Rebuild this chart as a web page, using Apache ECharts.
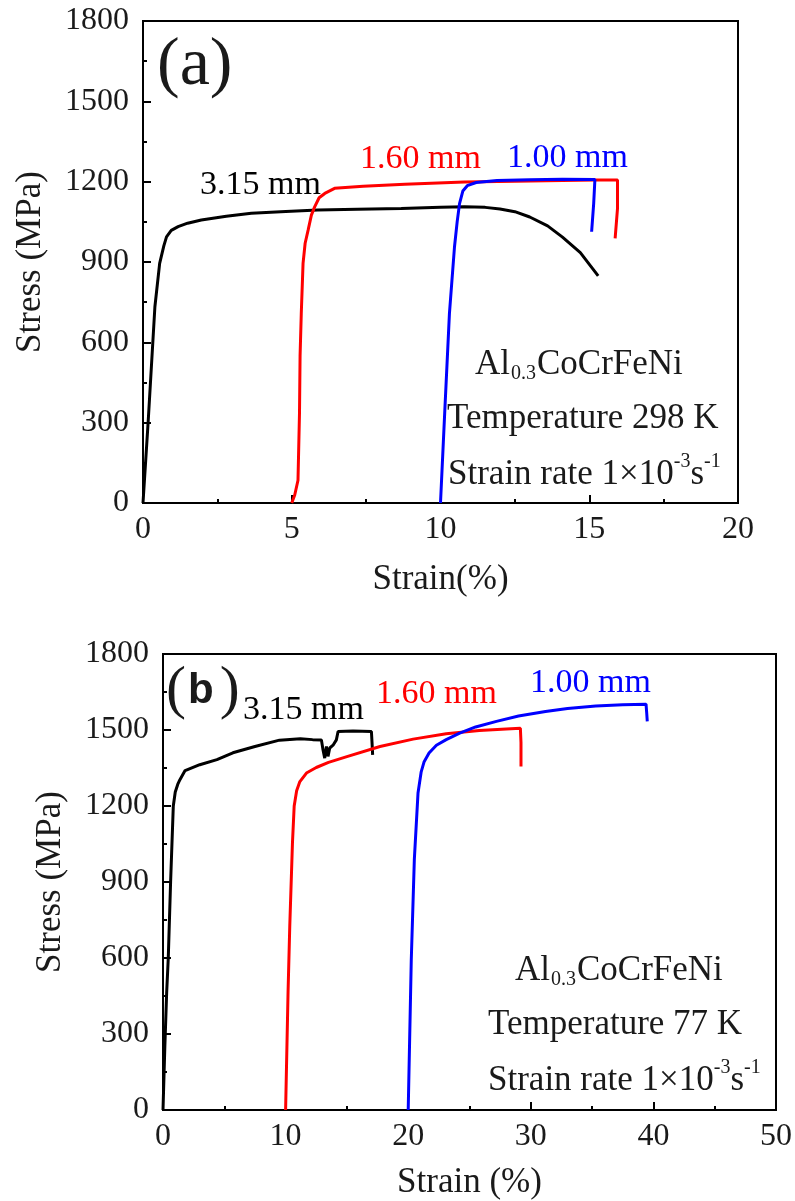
<!DOCTYPE html>
<html>
<head>
<meta charset="utf-8">
<script src="https://cdn.jsdelivr.net/npm/echarts@6/dist/echarts.min.js"></script>
<style>html,body{margin:0;padding:0;background:#fff;}#c{width:795px;height:1201px;}</style>
</head>
<body>
<div id="c"></div>
<script>
// ---------- Panel (a): 298 K ----------
const aStrain315 = [0, 0.17, 0.4, 0.56, 0.7, 0.79, 0.95, 1.18, 1.5, 1.96, 2.8, 3.64, 4.8, 5.88, 7.2, 8.68, 10.0, 10.8, 11.5, 12.0, 12.5, 13.0, 13.6, 14.1, 14.7, 15.3];
const aStress315 = [0, 297, 733, 895, 960, 994, 1018, 1032, 1045, 1057, 1071, 1082, 1089, 1094, 1097, 1100, 1104, 1106, 1104, 1098, 1088, 1068, 1035, 993, 935, 848];

const aStrain160 = [5.0, 5.1, 5.21, 5.26, 5.28, 5.32, 5.38, 5.45, 5.55, 5.66, 5.77, 5.92, 6.11, 6.44, 7.4, 8.8, 10.8, 12.5, 14.1, 15.2, 15.95, 16.0, 15.95, 15.87];
const aStress160 = [0, 30, 85, 334, 550, 707, 895, 970, 1019, 1075, 1106, 1140, 1156, 1175, 1183, 1190, 1199, 1202, 1204, 1206, 1206, 1200, 1100, 988];

const aStrain100 = [10.0, 10.14, 10.3, 10.47, 10.56, 10.64, 10.75, 10.9, 11.2, 11.9, 13.0, 14.1, 15.19, 15.15, 15.08];
const aStress100 = [0, 334, 707, 956, 1050, 1118, 1165, 1185, 1197, 1204, 1207, 1209, 1208, 1120, 1013];

// ---------- Panel (b): 77 K ----------
const bStrain315 = [0, 0.15, 0.3, 0.43, 0.62, 0.84, 1.0, 1.2, 1.38, 1.8, 3.0, 4.4, 5.7, 7.5, 9.5, 11.2, 12.2, 12.92, 13.05, 13.19, 13.33, 13.46, 13.6, 13.87, 14.14, 14.28, 15.5, 17.0, 17.05, 17.1];
const bStress315 = [0, 250, 465, 600, 900, 1200, 1255, 1285, 1304, 1340, 1363, 1383, 1410, 1435, 1460, 1465, 1462, 1461, 1422, 1389, 1435, 1396, 1429, 1440, 1461, 1494, 1496, 1494, 1450, 1402];

const bStrain160 = [10.0, 10.2, 10.34, 10.56, 10.7, 10.9, 11.15, 11.7, 12.5, 13.5, 15.0, 17.7, 20.4, 23.1, 25.8, 28.0, 29.15, 29.2, 29.2];
const bStress160 = [0, 465, 726, 1055, 1200, 1260, 1295, 1330, 1352, 1372, 1395, 1435, 1464, 1485, 1498, 1504, 1507, 1450, 1356];

const bStrain100 = [20.0, 20.25, 20.5, 20.8, 21.06, 21.3, 21.7, 22.3, 23.1, 24.2, 25.5, 27.2, 29.0, 31.2, 33.0, 35.3, 37.5, 39.4, 39.45, 39.5];
const bStress100 = [0, 591, 988, 1251, 1335, 1375, 1409, 1440, 1462, 1488, 1512, 1534, 1555, 1573, 1585, 1595, 1600, 1602, 1570, 1534];

// Labels
const seriesNames = ['3.15 mm', '1.60 mm', '1.00 mm'];
const seriesColors = ['#000000', '#ff0000', '#0000ff'];
const yTitle = 'Stress (MPa)';
const xTitleA = 'Strain(%)';
const xTitleB = 'Strain (%)';

const zip = (xs, ys) => xs.map((x, i) => [x, ys[i]]);
const FONT = "'Liberation Serif', 'Times New Roman', serif";
const TXT = '#1a1a1a';

function xAxisCfg(gi, max, interval, name, gap) {
  return {
    type: 'value', gridIndex: gi, min: 0, max: max, interval: interval,
    name: name, nameLocation: 'middle', nameGap: gap,
    nameTextStyle: { fontFamily: FONT, fontSize: 35, color: TXT },
    axisLine: { show: true, onZero: false, lineStyle: { color: '#000', width: 2 } },
    axisTick: { show: true, inside: true, length: 8, lineStyle: { color: '#000', width: 2 } },
    minorTick: { show: true, splitNumber: 2, length: 4, lineStyle: { color: '#000', width: 2 } },
    axisLabel: { fontFamily: FONT, fontSize: 32, color: TXT, margin: 11, formatter: v => String(v) },
    splitLine: { show: false }, minorSplitLine: { show: false }
  };
}
function yAxisCfg(gi) {
  return {
    type: 'value', gridIndex: gi, min: 0, max: 1800, interval: 300,
    name: yTitle, nameLocation: 'middle', nameGap: 95, nameRotate: 90,
    nameTextStyle: { fontFamily: FONT, fontSize: 35, color: TXT },
    axisLine: { show: true, onZero: false, lineStyle: { color: '#000', width: 2 } },
    axisTick: { show: true, inside: true, length: 8, lineStyle: { color: '#000', width: 2 } },
    minorTick: { show: true, splitNumber: 2, length: 4, lineStyle: { color: '#000', width: 2 } },
    axisLabel: { fontFamily: FONT, fontSize: 32, color: TXT, margin: 14, formatter: v => String(v) },
    splitLine: { show: false }, minorSplitLine: { show: false }
  };
}
function lineSeries(xi, data, color) {
  return {
    type: 'line', xAxisIndex: xi, yAxisIndex: xi, data: data,
    showSymbol: false, symbol: 'none', smooth: false,
    lineStyle: { color: color, width: 3 }, itemStyle: { color: color },
    animation: false, z: 3
  };
}
function txt(x, y, text, size, color) {
  return {
    type: 'text', x: x, y: y, z: 10,
    style: { text: text, fontFamily: FONT, fontSize: size, fill: color, align: 'left', verticalAlign: 'middle' }
  };
}
function richTxt(x, y, text, size) {
  return {
    type: 'text', x: x, y: y, z: 10,
    style: {
      text: text, align: 'left', verticalAlign: 'middle',
      fontFamily: FONT, fontSize: size, fill: TXT,
      rich: {
        m: { fontFamily: FONT, fontSize: size, fill: TXT, lineHeight: 46, verticalAlign: 'middle' },
        s: { fontFamily: FONT, fontSize: 20, fill: TXT, lineHeight: 20, verticalAlign: 'bottom', padding: [0, 1, 4, 1] },
        u: { fontFamily: FONT, fontSize: 20, fill: TXT, lineHeight: 20, verticalAlign: 'top' }
      }
    }
  };
}

const chart = echarts.init(document.getElementById('c'), null, { renderer: 'canvas' });
chart.setOption({
  backgroundColor: '#fff',
  animation: false,
  grid: [
    { left: 143, top: 21, width: 595, height: 482, show: true, borderColor: '#000', borderWidth: 2, backgroundColor: 'transparent' },
    { left: 163, top: 654, width: 614, height: 457, show: true, borderColor: '#000', borderWidth: 2, backgroundColor: 'transparent' }
  ],
  xAxis: [xAxisCfg(0, 20, 5, xTitleA, 59), xAxisCfg(1, 50, 10, xTitleB, 55)],
  yAxis: [yAxisCfg(0), yAxisCfg(1)],
  series: [
    lineSeries(0, zip(aStrain315, aStress315), seriesColors[0]),
    lineSeries(0, zip(aStrain160, aStress160), seriesColors[1]),
    lineSeries(0, zip(aStrain100, aStress100), seriesColors[2]),
    lineSeries(1, zip(bStrain315, bStress315), seriesColors[0]),
    lineSeries(1, zip(bStrain160, bStress160), seriesColors[1]),
    lineSeries(1, zip(bStrain100, bStress100), seriesColors[2])
  ],
  graphic: [
    // panel a
    txt(157, 66, '(a)', 68, TXT),
    txt(200, 185, seriesNames[0], 34, seriesColors[0]),
    txt(360, 159, seriesNames[1], 34, seriesColors[1]),
    txt(507, 158, seriesNames[2], 34, seriesColors[2]),
    richTxt(475, 365, '{m|Al}{s|0.3}{m|CoCrFeNi}', 35),
    txt(447, 419, 'Temperature 298 K', 35, TXT),
    richTxt(448, 475, '{m|Strain rate 1×10}{u|-3}{m|s}{u|-1}', 35),
    // panel b
    {
      type: 'text', x: 166, y: 691, z: 10,
      style: {
        text: '{p|(}{b|b}{p|)}', align: 'left', verticalAlign: 'middle',
        rich: {
          p: { fontFamily: FONT, fontSize: 60, fill: TXT, lineHeight: 64, verticalAlign: 'middle' },
          b: { fontFamily: "'Liberation Sans', Arial, sans-serif", fontWeight: 'bold', fontSize: 42, fill: TXT, verticalAlign: 'middle', padding: [0, 6, 0, 2] }
        }
      }
    },
    txt(243, 710, seriesNames[0], 34, seriesColors[0]),
    txt(376, 694, seriesNames[1], 34, seriesColors[1]),
    txt(530, 683, seriesNames[2], 34, seriesColors[2]),
    richTxt(515, 971, '{m|Al}{s|0.3}{m|CoCrFeNi}', 35),
    txt(488, 1025, 'Temperature 77 K', 35, TXT),
    richTxt(488, 1081, '{m|Strain rate 1×10}{u|-3}{m|s}{u|-1}', 35)
  ]
});
</script>
</body>
</html>
